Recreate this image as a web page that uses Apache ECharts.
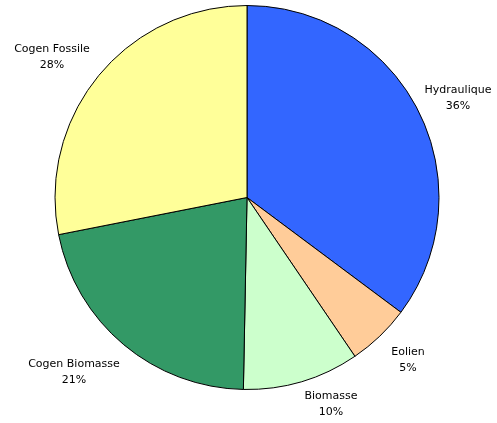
<!DOCTYPE html>
<html>
<head>
<meta charset="utf-8">
<script src="https://cdn.jsdelivr.net/npm/echarts@6/dist/echarts.min.js"></script>
<style>
html,body{margin:0;padding:0;background:#fff;}
#c{width:497px;height:423px;}
</style>
</head>
<body>
<div id="c"></div>
<script>
// Data
const categories = ['Hydraulique', 'Eolien', 'Biomasse', 'Cogen Biomasse', 'Cogen Fossile'];
const values = [35.2, 5.3, 9.8, 21.6, 28.1];
const pctLabels = ['36%', '5%', '10%', '21%', '28%'];
const colors = ['#3366FF', '#FFCC99', '#CCFFCC', '#339966', '#FFFF99'];

// Layout / style
const CX = 247, CY = 197.5, R = 192;
const labelOffsets = [[211, -99], [161, 163], [84, 207], [-173, 175], [-195, -140]];

const chart = echarts.init(document.getElementById('c'), null, {renderer: 'canvas'});
chart.setOption({
  animation: false,
  backgroundColor: '#ffffff',
  series: [{
    type: 'pie',
    center: [CX, CY],
    radius: [0, R],
    startAngle: 90,
    clockwise: true,
    avoidLabelOverlap: false,
    data: categories.map((c, i) => ({
      name: c,
      value: values[i],
      itemStyle: {color: colors[i]}
    })),
    itemStyle: {borderColor: '#000', borderWidth: 1},
    emphasis: {disabled: true},
    label: {
      show: true,
      position: 'outside',
      formatter: p => p.name + '\n' + pctLabels[p.dataIndex],
      fontFamily: 'DejaVu Sans',
      fontSize: 11,
      lineHeight: 16,
      color: '#000',
      align: 'center'
    },
    labelLine: {show: false},
    labelLayout: p => ({
      x: CX + labelOffsets[p.dataIndex][0],
      y: CY + labelOffsets[p.dataIndex][1],
      align: 'center',
      verticalAlign: 'middle'
    })
  }]
});
</script>
</body>
</html>
